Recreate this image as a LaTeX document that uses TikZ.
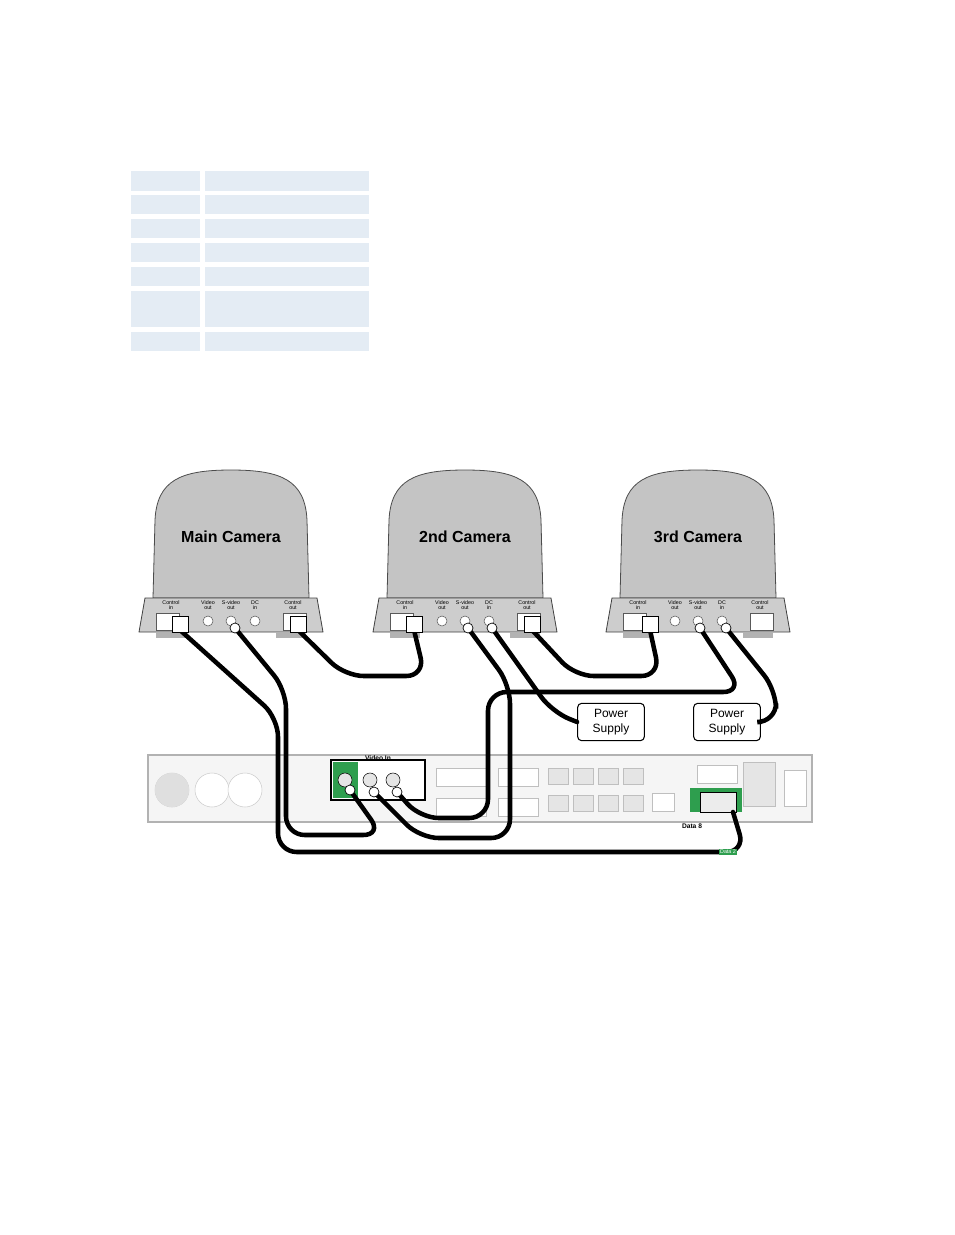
\documentclass[tikz,border=0pt]{standalone}
\usepackage{fontspec}
\setmainfont{Liberation Sans}
\usetikzlibrary{calc}
\begin{document}
\begin{tikzpicture}[x=0.75pt,y=-0.75pt,
  cable/.style={line width=3.4pt,black,rounded corners=14pt,line cap=round},
  psbox/.style={draw,line width=0.8pt,rounded corners=3pt,fill=white,minimum width=50pt,minimum height=28pt,align=center,font=\small},
  camlab/.style={font=\bfseries\large,text=black},
  plab/.style={font=\fontsize{4}{4}\selectfont,align=center,inner sep=0pt},
  port/.style={draw=gray!70!black,fill=white,line width=0.4pt}]
\definecolor{tblue}{HTML}{E4ECF4}
\definecolor{camgray}{HTML}{C4C4C4}
\definecolor{gr}{HTML}{2E9E4E}
\useasboundingbox (0,0) rectangle (954,1235);
% table
\foreach \a/\b in {171/191,195/214,219/238,243/262,267/286,291/327,332/351}{
  \fill[tblue] (131,\a) rectangle (200,\b);
  \fill[tblue] (205,\a) rectangle (369,\b);}
% cameras
\foreach \cx/\nm/\lab in {231/c1/Main Camera,465/c2/2nd Camera,698/c3/3rd Camera}{
  \begin{scope}[shift={(\cx,0)}]
  \draw[fill=camgray,draw=gray!60!black,line width=0.6pt]
    (-78,598) -- (-76,520) .. controls (-74,480) and (-50,470) .. (0,470)
    .. controls (50,470) and (74,480) .. (76,520) -- (78,598) -- cycle;
  \draw[fill=camgray!85,draw=gray!50!black,line width=0.6pt]
    (-86,598) -- (86,598) -- (92,632) -- (-92,632) -- cycle;
  \fill[gray!60] (-75,632) rectangle (-45,638);
  \fill[gray!60] (45,632) rectangle (75,638);
  \node[camlab] (\nm) at (0,537) {\lab};
  \node[plab] at (-60,605) {Control\\in};
  \node[plab] at (-23,605) {Video\\out};
  \node[plab] at (0,605) {S-video\\out};
  \node[plab] at (24,605) {DC\\in};
  \node[plab] at (62,605) {Control\\out};
  \draw[port] (-75,613) rectangle (-52,630);
  \draw[port] (52,613) rectangle (75,630);
  \draw[port] (-23,621) circle (5);
  \draw[port] (0,621) circle (5);
  \draw[port] (24,621) circle (5);
  \end{scope}}
% codec panel
\draw[fill=gray!8,draw=gray!60,line width=0.8pt] (148,755) rectangle (812,822);
\foreach \x in {172,212,245}{\draw[gray!40,fill=white] (\x,790) circle (17);}
\fill[gray!25] (172,790) circle (17);
\draw[fill=white,draw=black,line width=0.8pt] (331,760) rectangle (425,800);
\fill[gr] (333,762) rectangle (358,798);
\node[font=\fontsize{5}{5}\selectfont\bfseries] (vin) at (378,758) {Video In};
\foreach \x in {345,370,393}{\draw[fill=gray!20] (\x,780) circle (7);}
\foreach \x/\y in {548/768,573/768,598/768,623/768,548/795,573/795,598/795,623/795}{
  \draw[gray!50,fill=gray!20] (\x,\y) rectangle ++(20,16);}
\draw[gray!50,fill=white] (436,768) rectangle ++(50,18);
\draw[gray!50,fill=white] (436,798) rectangle ++(50,18);
\draw[gray!50,fill=white] (498,768) rectangle ++(40,18);
\draw[gray!50,fill=white] (498,798) rectangle ++(40,18);
\draw[gray!50,fill=white] (652,793) rectangle ++(22,18);
\draw[gray!50,fill=white] (697,765) rectangle ++(40,18);
\draw[gray!50,fill=gray!20] (743,762) rectangle ++(32,44);
\draw[gray!50,fill=white] (784,770) rectangle ++(22,36);
\fill[gr] (690,788) rectangle (742,812);
\draw[fill=gray!15,line width=0.6pt] (700,792) rectangle (736,812);
\node[font=\fontsize{5}{5}\selectfont\bfseries] (d8) at (692,826) {Data 8};
% power supplies
\node[psbox] (ps1) at (611,722) {Power\\ Supply};
\node[psbox] (ps2) at (727,722) {Power\\ Supply};
% named cable ends
\coordinate (m1) at (180,630); \coordinate (ms) at (235,628); \coordinate (mo) at (298,630);
\coordinate (a1) at (414,630); \coordinate (as) at (468,628); \coordinate (ad) at (492,628); \coordinate (ao) at (532,630);
\coordinate (b1) at (650,630); \coordinate (bs) at (700,628); \coordinate (bd) at (726,628);
\coordinate (k1) at (350,790); \coordinate (k2) at (374,792); \coordinate (k3) at (397,792);
\coordinate (dt) at (733,812);
% cables
\draw[cable] (m1) -- (278,718) -- (278,852) -- (745,852) -- (dt);
\draw[cable] (ms) -- (286,690) -- (286,835) -- (382,835) -- (k1);
\draw[cable] (mo) -- (345,676) -- (425,676) -- (a1);
\draw[cable] (ao) -- (575,676) -- (660,676) -- (b1);
\draw[cable] (as) -- (510,685) -- (510,838) -- (420,838) -- (k2);
\draw[cable] (ad) -- (552,712) -- (ps1.west);
\draw[cable] (bs) -- (742,692) -- (488,692) -- (488,818) -- (420,818) -- (k3);
\draw[cable] (bd) -- (776,690) -- (776,722) -- (ps2.east);
% plugs
\foreach \p in {m1,mo,a1,ao,b1}{\draw[fill=white,line width=0.5pt] ($(\p)+(-8,-14)$) rectangle ($(\p)+(8,2)$);}
\foreach \p in {ms,as,ad,bs,bd,k1,k2,k3}{\draw[fill=white,line width=0.5pt] (\p) circle (5);}
\node[fill=gr,text=white,font=\fontsize{4}{4}\selectfont,inner sep=1pt] (d2) at (728,852) {Data 2};
\end{tikzpicture}
\end{document}
